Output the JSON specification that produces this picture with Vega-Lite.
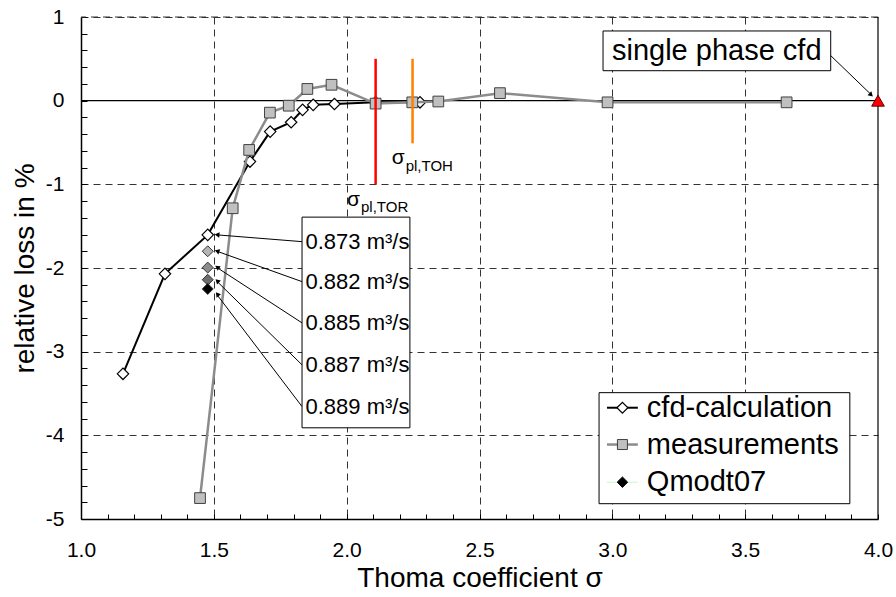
{
  "$schema": "https://vega.github.io/schema/vega-lite/v6.json",
  "width": 797,
  "height": 502,
  "autosize": {"type": "none"},
  "padding": {"left": 81, "top": 17, "right": 18, "bottom": 78},
  "background": "white",
  "resolve": {"axis": {"x": "independent", "y": "independent"}},
  "config": {
    "view": {"stroke": null},
    "font": "Liberation Sans",
    "text": {"font": "Liberation Sans", "color": "black"},
    "axis": {"labelFont": "Liberation Sans", "titleFont": "Liberation Sans"}
  },
  "datasets": {
    "cfd": [
      {"sigma": 1.158, "loss": -3.265},
      {"sigma": 1.316, "loss": -2.07},
      {"sigma": 1.477, "loss": -1.604},
      {"sigma": 1.636, "loss": -0.728},
      {"sigma": 1.712, "loss": -0.37},
      {"sigma": 1.791, "loss": -0.258},
      {"sigma": 1.834, "loss": -0.11},
      {"sigma": 1.874, "loss": -0.05},
      {"sigma": 1.954, "loss": -0.04},
      {"sigma": 2.109, "loss": -0.02},
      {"sigma": 2.276, "loss": -0.02}
    ],
    "meas": [
      {"sigma": 1.448, "loss": -4.75},
      {"sigma": 1.571, "loss": -1.286},
      {"sigma": 1.633, "loss": -0.589},
      {"sigma": 1.711, "loss": -0.143},
      {"sigma": 1.782, "loss": -0.06},
      {"sigma": 1.852, "loss": 0.14},
      {"sigma": 1.943, "loss": 0.19},
      {"sigma": 2.109, "loss": -0.035},
      {"sigma": 2.247, "loss": -0.02},
      {"sigma": 2.345, "loss": -0.01},
      {"sigma": 2.577, "loss": 0.09},
      {"sigma": 2.982, "loss": -0.02},
      {"sigma": 3.656, "loss": -0.02}
    ],
    "qmodt": [
      {"sigma": 1.477, "loss": -1.8, "q": "0.882"},
      {"sigma": 1.477, "loss": -1.995, "q": "0.885"},
      {"sigma": 1.477, "loss": -2.14, "q": "0.887"},
      {"sigma": 1.477, "loss": -2.25, "q": "0.889"}
    ],
    "qlabels": [
      {"label": "0.873 m³/s", "loss": -1.685, "tip": -1.604},
      {"label": "0.882 m³/s", "loss": -2.163, "tip": -1.8},
      {"label": "0.885 m³/s", "loss": -2.656, "tip": -1.995},
      {"label": "0.887 m³/s", "loss": -3.158, "tip": -2.16},
      {"label": "0.889 m³/s", "loss": -3.656, "tip": -2.32}
    ],
    "vlines": [
      {"sigma": 2.109, "loss": 0.5, "bottom": -1.0, "name": "TOR"},
      {"sigma": 2.248, "loss": 0.5, "bottom": -0.51, "name": "TOH"}
    ],
    "single": [
      {"sigma": 4.0, "loss": 0.0}
    ]
  },
  "layer": [
    {
      "data": {"name": "cfd"},
      "mark": {"type": "line", "color": "black", "strokeWidth": 2},
      "encoding": {
        "x": {
          "field": "sigma", "type": "quantitative",
          "scale": {"domain": [1, 4], "nice": false, "zero": false},
          "axis": {
            "orient": "bottom",
            "title": "Thoma coefficient σ",
            "titleFontSize": 28, "titleFontWeight": "normal", "titleColor": "black", "titlePadding": 4,
            "values": [1.0,1.1,1.2,1.3,1.4,1.5,1.6,1.7,1.8,1.9,2.0,2.1,2.2,2.3,2.4,2.5,2.6,2.7,2.8,2.9,3.0,3.1,3.2,3.3,3.4,3.5,3.6,3.7,3.8,3.9,4.0],
            "labelExpr": "abs(datum.value*2 - round(datum.value*2)) < 0.001 ? format(datum.value, '.1f') : ''",
            "labelFontSize": 21, "labelColor": "black", "labelFlush": false, "labelOverlap": false, "labelBound": false,
            "labelPadding": 25,
            "tickSize": -5,
            "tickColor": "black", "tickWidth": 1,
            "domainColor": "black", "domainWidth": 1.5,
            "grid": true, "gridColor": "#333333", "gridDash": [7, 5], "gridWidth": 1,
            "gridOpacity": {"condition": {"test": "abs(datum.value*2 - round(datum.value*2)) < 0.001 && datum.value > 1.05 && datum.value < 3.95", "value": 1}, "value": 0}
          }
        },
        "y": {
          "field": "loss", "type": "quantitative",
          "scale": {"domain": [-5, 1], "nice": false, "zero": false},
          "axis": {
            "orient": "left",
            "title": "relative loss in %",
            "titleFontSize": 28, "titleFontWeight": "normal", "titleColor": "black", "titlePadding": 6,
            "values": [-5,-4.8,-4.6,-4.4,-4.2,-4,-3.8,-3.6,-3.4,-3.2,-3,-2.8,-2.6,-2.4,-2.2,-2,-1.8,-1.6,-1.4,-1.2,-1,-0.8,-0.6,-0.4,-0.2,0,0.2,0.4,0.6,0.8,1],
            "labelExpr": "abs(datum.value - round(datum.value)) < 0.001 ? '' + round(datum.value) : ''",
            "labelFontSize": 21, "labelColor": "black", "labelFlush": false, "labelOverlap": false, "labelBound": false,
            "labelPadding": 23,
            "tickSize": -6,
            "tickColor": "black", "tickWidth": 1,
            "domainColor": "black", "domainWidth": 1.5,
            "grid": true, "gridColor": "#333333", "gridDash": [7, 5], "gridWidth": 1,
            "gridOpacity": {"condition": {"test": "abs(datum.value - round(datum.value)) < 0.001 && datum.value > -4.5 && abs(datum.value) > 0.1", "value": 1}, "value": 0}
          }
        }
      }
    },
    {
      "data": {"values": [{}]},
      "mark": {"type": "rule", "color": "#333333", "strokeWidth": 1, "strokeDash": [7, 5]},
      "encoding": {"y": {"datum": 1, "type": "quantitative", "axis": null}}
    },
    {
      "data": {"values": [{}]},
      "mark": {"type": "rule", "color": "black", "strokeWidth": 1.2},
      "encoding": {"y": {"datum": 0, "type": "quantitative", "axis": null}}
    },
    {
      "data": {"values": [{}]},
      "mark": {"type": "rule", "color": "black", "strokeWidth": 1.2},
      "encoding": {"x": {"datum": 4, "type": "quantitative", "axis": null}}
    },
    {
      "data": {"name": "cfd"},
      "mark": {"type": "point", "shape": "diamond", "filled": true, "fill": "white", "stroke": "black", "strokeWidth": 1.2, "size": 130, "opacity": 1},
      "encoding": {
        "x": {"field": "sigma", "type": "quantitative", "axis": null},
        "y": {"field": "loss", "type": "quantitative", "axis": null}
      }
    },
    {
      "data": {"name": "meas"},
      "mark": {"type": "line", "color": "#8c8c8c", "strokeWidth": 2.5},
      "encoding": {
        "x": {"field": "sigma", "type": "quantitative", "axis": null},
        "y": {"field": "loss", "type": "quantitative", "axis": null}
      }
    },
    {
      "data": {"name": "meas"},
      "mark": {"type": "point", "shape": "square", "filled": true, "fill": "#c0c0c0", "stroke": "#404040", "strokeWidth": 1, "size": 115, "opacity": 1},
      "encoding": {
        "x": {"field": "sigma", "type": "quantitative", "axis": null},
        "y": {"field": "loss", "type": "quantitative", "axis": null}
      }
    },
    {
      "data": {"name": "vlines"},
      "mark": {"type": "rule", "strokeWidth": 2.5},
      "encoding": {
        "x": {"field": "sigma", "type": "quantitative", "axis": null},
        "y": {"field": "loss", "type": "quantitative", "axis": null},
        "y2": {"field": "bottom"},
        "color": {"field": "name", "type": "nominal", "scale": {"domain": ["TOR", "TOH"], "range": ["#ff0000", "#ff8000"]}, "legend": null}
      }
    },
    {
      "data": {"name": "qmodt"},
      "mark": {"type": "point", "shape": "diamond", "filled": true, "stroke": "#333333", "strokeWidth": 1, "size": 120, "opacity": 1},
      "encoding": {
        "x": {"field": "sigma", "type": "quantitative", "axis": null},
        "y": {"field": "loss", "type": "quantitative", "axis": null},
        "fill": {"field": "q", "type": "nominal", "scale": {"domain": ["0.882", "0.885", "0.887", "0.889"], "range": ["#b4b4b4", "#8c8c8c", "#6e6e6e", "#000000"]}, "legend": null}
      }
    },
    {
      "data": {"name": "single"},
      "mark": {"type": "point", "shape": "triangle-up", "filled": true, "fill": "#ff0000", "stroke": "#600000", "strokeWidth": 1, "size": 160, "opacity": 1},
      "encoding": {
        "x": {"field": "sigma", "type": "quantitative", "axis": null},
        "y": {"field": "loss", "type": "quantitative", "axis": null}
      }
    },
    {
      "data": {"values": [{}]},
      "mark": {"type": "text", "text": "σ", "fontSize": 21, "align": "left", "baseline": "middle"},
      "encoding": {"x": {"datum": 2.001, "type": "quantitative", "axis": null}, "y": {"datum": -1.189, "type": "quantitative", "axis": null}}
    },
    {
      "data": {"values": [{}]},
      "mark": {"type": "text", "text": "pl,TOR", "fontSize": 15, "align": "left", "baseline": "middle"},
      "encoding": {"x": {"datum": 2.054, "type": "quantitative", "axis": null}, "y": {"datum": -1.272, "type": "quantitative", "axis": null}}
    },
    {
      "data": {"values": [{}]},
      "mark": {"type": "text", "text": "σ", "fontSize": 21, "align": "left", "baseline": "middle"},
      "encoding": {"x": {"datum": 2.17, "type": "quantitative", "axis": null}, "y": {"datum": -0.685, "type": "quantitative", "axis": null}}
    },
    {
      "data": {"values": [{}]},
      "mark": {"type": "text", "text": "pl,TOH", "fontSize": 15, "align": "left", "baseline": "middle"},
      "encoding": {"x": {"datum": 2.222, "type": "quantitative", "axis": null}, "y": {"datum": -0.775, "type": "quantitative", "axis": null}}
    },
    {
      "data": {"name": "qlabels"},
      "mark": {"type": "rule", "color": "black", "strokeWidth": 1},
      "encoding": {
        "x": {"datum": 1.832, "type": "quantitative", "axis": null},
        "x2": {"datum": 1.512},
        "y": {"field": "loss", "type": "quantitative", "axis": null},
        "y2": {"field": "tip"}
      }
    },
    {
      "data": {"name": "qlabels"},
      "transform": [{"calculate": "atan2((1.512 - 1.832) * 265.7, (datum.tip - datum.loss) * 83.7) * 180 / PI", "as": "ang"}],
      "mark": {"type": "point", "shape": "triangle", "filled": true, "color": "black", "size": 30, "opacity": 1},
      "encoding": {
        "x": {"datum": 1.515, "type": "quantitative", "axis": null},
        "y": {"field": "tip", "type": "quantitative", "axis": null},
        "angle": {"field": "ang", "type": "quantitative", "scale": null}
      }
    },
    {
      "data": {"values": [{}]},
      "mark": {"type": "rect", "fill": "white", "stroke": "black", "strokeWidth": 1},
      "encoding": {
        "x": {"datum": 1.832, "type": "quantitative", "axis": null},
        "x2": {"datum": 2.238},
        "y": {"datum": -1.392, "type": "quantitative", "axis": null},
        "y2": {"datum": -3.91}
      }
    },
    {
      "data": {"name": "qlabels"},
      "mark": {"type": "text", "fontSize": 22, "align": "left", "baseline": "middle"},
      "encoding": {
        "x": {"datum": 1.845, "type": "quantitative", "axis": null},
        "y": {"field": "loss", "type": "quantitative", "axis": null},
        "text": {"field": "label"}
      }
    },
    {
      "data": {"values": [{}]},
      "mark": {"type": "rule", "color": "black", "strokeWidth": 1},
      "encoding": {
        "x": {"datum": 3.813, "type": "quantitative", "axis": null},
        "x2": {"datum": 3.975},
        "y": {"datum": 0.566, "type": "quantitative", "axis": null},
        "y2": {"datum": 0.07}
      }
    },
    {
      "data": {"values": [{}]},
      "mark": {"type": "point", "shape": "triangle", "filled": true, "color": "black", "size": 30, "opacity": 1, "angle": 134},
      "encoding": {
        "x": {"datum": 3.972, "type": "quantitative", "axis": null},
        "y": {"datum": 0.075, "type": "quantitative", "axis": null}
      }
    },
    {
      "data": {"values": [{}]},
      "mark": {"type": "rect", "fill": "white", "stroke": "black", "strokeWidth": 1},
      "encoding": {
        "x": {"datum": 2.965, "type": "quantitative", "axis": null},
        "x2": {"datum": 3.822},
        "y": {"datum": 0.833, "type": "quantitative", "axis": null},
        "y2": {"datum": 0.358}
      }
    },
    {
      "data": {"values": [{}]},
      "mark": {"type": "text", "text": "single phase cfd", "fontSize": 29, "align": "center", "baseline": "middle"},
      "encoding": {
        "x": {"datum": 3.393, "type": "quantitative", "axis": null},
        "y": {"datum": 0.594, "type": "quantitative", "axis": null}
      }
    },
    {
      "data": {"values": [{}]},
      "mark": {"type": "rect", "fill": "white", "stroke": "black", "strokeWidth": 1},
      "encoding": {
        "x": {"datum": 2.95, "type": "quantitative", "axis": null},
        "x2": {"datum": 3.894},
        "y": {"datum": -3.49, "type": "quantitative", "axis": null},
        "y2": {"datum": -4.817}
      }
    },
    {
      "data": {"values": [{}]},
      "mark": {"type": "rule", "color": "black", "strokeWidth": 2},
      "encoding": {
        "x": {"datum": 2.98, "type": "quantitative", "axis": null},
        "x2": {"datum": 3.096},
        "y": {"datum": -3.67, "type": "quantitative", "axis": null}
      }
    },
    {
      "data": {"values": [{}]},
      "mark": {"type": "point", "shape": "diamond", "filled": true, "fill": "white", "stroke": "black", "strokeWidth": 1.2, "size": 120, "opacity": 1},
      "encoding": {
        "x": {"datum": 3.038, "type": "quantitative", "axis": null},
        "y": {"datum": -3.67, "type": "quantitative", "axis": null}
      }
    },
    {
      "data": {"values": [{}]},
      "mark": {"type": "text", "text": "cfd-calculation", "fontSize": 29, "align": "left", "baseline": "middle"},
      "encoding": {
        "x": {"datum": 3.13, "type": "quantitative", "axis": null},
        "y": {"datum": -3.67, "type": "quantitative", "axis": null}
      }
    },
    {
      "data": {"values": [{}]},
      "mark": {"type": "rule", "color": "#8c8c8c", "strokeWidth": 2.5},
      "encoding": {
        "x": {"datum": 2.98, "type": "quantitative", "axis": null},
        "x2": {"datum": 3.096},
        "y": {"datum": -4.11, "type": "quantitative", "axis": null}
      }
    },
    {
      "data": {"values": [{}]},
      "mark": {"type": "point", "shape": "square", "filled": true, "fill": "#c0c0c0", "stroke": "#404040", "strokeWidth": 1, "size": 100, "opacity": 1},
      "encoding": {
        "x": {"datum": 3.038, "type": "quantitative", "axis": null},
        "y": {"datum": -4.11, "type": "quantitative", "axis": null}
      }
    },
    {
      "data": {"values": [{}]},
      "mark": {"type": "text", "text": "measurements", "fontSize": 29, "align": "left", "baseline": "middle"},
      "encoding": {
        "x": {"datum": 3.13, "type": "quantitative", "axis": null},
        "y": {"datum": -4.11, "type": "quantitative", "axis": null}
      }
    },
    {
      "data": {"values": [{}]},
      "mark": {"type": "rule", "color": "#c8f5c8", "strokeWidth": 1},
      "encoding": {
        "x": {"datum": 2.98, "type": "quantitative", "axis": null},
        "x2": {"datum": 3.096},
        "y": {"datum": -4.56, "type": "quantitative", "axis": null}
      }
    },
    {
      "data": {"values": [{}]},
      "mark": {"type": "point", "shape": "diamond", "filled": true, "fill": "black", "stroke": "black", "strokeWidth": 1, "size": 110, "opacity": 1},
      "encoding": {
        "x": {"datum": 3.038, "type": "quantitative", "axis": null},
        "y": {"datum": -4.56, "type": "quantitative", "axis": null}
      }
    },
    {
      "data": {"values": [{}]},
      "mark": {"type": "text", "text": "Qmodt07", "fontSize": 29, "align": "left", "baseline": "middle"},
      "encoding": {
        "x": {"datum": 3.13, "type": "quantitative", "axis": null},
        "y": {"datum": -4.56, "type": "quantitative", "axis": null}
      }
    }
  ]
}
